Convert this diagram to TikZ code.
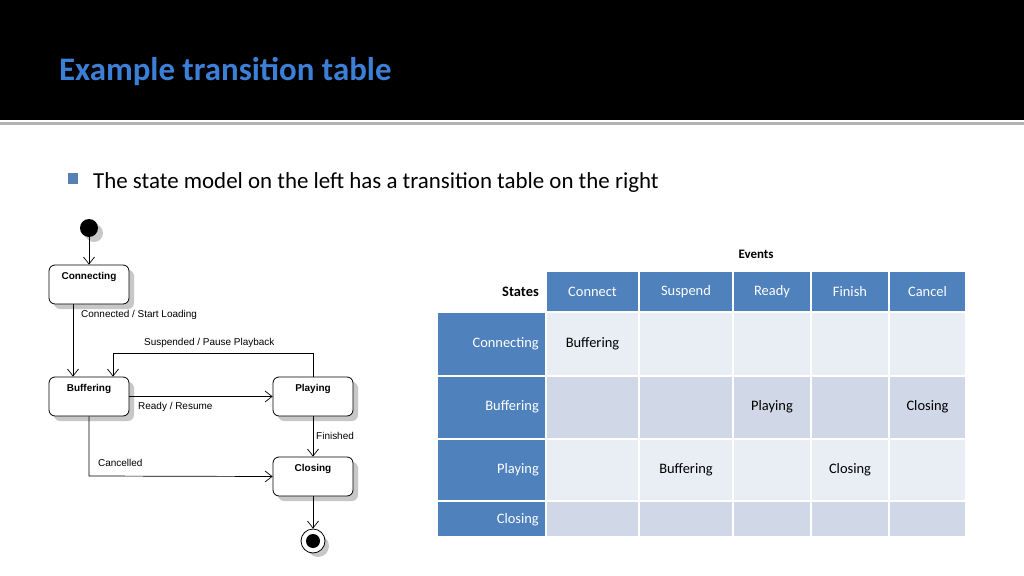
\documentclass[tikz,border=0pt]{standalone}
\usepackage{fontspec}
\setmainfont{Carlito}
\newfontfamily\arialf{Liberation Sans}
\usetikzlibrary{arrows.meta}
\definecolor{ttl}{HTML}{3C7FD6}
\definecolor{hdr}{HTML}{4F81BD}
\definecolor{cla}{HTML}{E9EDF4}
\definecolor{clb}{HTML}{D0D8E8}
\begin{document}
\begin{tikzpicture}[x=1bp,y=-1bp,
  st/.style={draw=black,line width=0.8bp,rounded corners=6bp,fill=white,minimum width=80bp,minimum height=39bp,inner sep=0},
  shd/.style={fill=black!22,rounded corners=6bp},
  tr/.style={draw=black,line width=0.7bp,-{Straight Barb[length=7bp,width=11bp]}},
  lb/.style={font=\arialf\fontsize{10}{12}\selectfont,anchor=west,inner sep=0},
  sn/.style={font=\arialf\bfseries\fontsize{10}{12}\selectfont,anchor=north,inner sep=0},
  hc/.style={fill=hdr,draw=white,line width=1.5bp},
  ca/.style={fill=cla,draw=white,line width=1.5bp},
  cb/.style={fill=clb,draw=white,line width=1.5bp},
  ht/.style={font=\fontsize{14.5}{17}\selectfont,text=white,inner sep=0},
  dt/.style={font=\fontsize{14.5}{17}\selectfont,inner sep=0}]
\useasboundingbox (0,0) rectangle (1024,576);
\fill[white] (0,0) rectangle (1024,576);
\fill[black] (0,0) rectangle (1024,120);
\fill[black!30] (0,122) rectangle (1024,125);
\node[anchor=base west,inner sep=0,text=ttl,font=\bfseries\fontsize{33}{36}\selectfont] (title) at (59,81) {Example transition table};
\fill[hdr!85!gray] (68,173) rectangle (78,184);
\node[anchor=base west,inner sep=0,font=\fontsize{23}{26}\selectfont] (bul) at (93,189) {The state model on the left has a transition table on the right};
% diagram
\fill[black!22] (94,233) circle (9);
\fill[black] (89,228) circle (9);
\coordinate (init) at (89,237);
\foreach \n/\x/\y in {Connecting/89/284.5,Buffering/89/396.5,Playing/313/396.5,Closing/313/476.5}{
  \fill[shd] (\x-35,\y-14.5) rectangle (\x+45,\y+24.5);
}
\node[st] (con) at (89,284.5) {};
\node[st] (buf) at (89,396.5) {};
\node[st] (pla) at (313,396.5) {};
\node[st] (clo) at (313,476.5) {};
\node[sn] at (89,272) {Connecting};
\node[sn] at (89,384) {Buffering};
\node[sn] at (313,384) {Playing};
\node[sn] at (313,464) {Closing};
\fill[black!22] (318,546) circle (11);
\node[circle,draw=black,fill=white,line width=0.8bp,minimum size=24bp,inner sep=0] (fin) at (313,541) {};
\fill[black] (fin.center) circle (7);
\draw[tr] (init) -- (con.north);
\draw[tr] (con.south -| 73,0) -- (buf.north -| 73,0);
\node[lb] at (81,315) {Connected / Start Loading};
\draw[tr] (pla.north) -- (313,353) -- (113,353) -- (buf.north -| 113,0);
\node[lb] at (144,343) {Suspended / Pause Playback};
\draw[tr] (buf.east) -- (pla.west);
\node[lb] at (138,407) {Ready / Resume};
\draw[tr] (buf.south) -- (89,476) -- (clo.west);
\node[lb] at (98,463) {Cancelled};
\draw[tr] (pla.south) -- (clo.north);
\node[lb] at (316,436) {Finished};
\draw[tr] (clo.south) -- (fin.north);
% table
\def\cx{{437,546,639,733,811,889,966}}
\foreach \i/\xa/\xb in {1/546/639,2/639/733,3/733/811,4/811/889,5/889/966}{
  \fill[hc] (\xa,271) rectangle (\xb,312);
}
\foreach \ya/\yb/\s in {312/376/ca,376/439/cb,439/501/ca,501/537/cb}{
  \fill[hc] (437,\ya) rectangle (546,\yb);
  \foreach \xa/\xb in {546/639,639/733,733/811,811/889,889/966}{
    \fill[\s] (\xa,\ya) rectangle (\xb,\yb);}
}
\node[dt,font=\bfseries\fontsize{13}{15}\selectfont] (ev) at (756,254) {Events};
\node[dt,font=\bfseries\fontsize{14.5}{17}\selectfont,anchor=east] (sts) at (539,292) {States};
\node[ht] at (592.5,292) {Connect};
\node[ht] at (686,292) {Suspend};
\node[ht] at (772,292) {Ready};
\node[ht] at (850,292) {Finish};
\node[ht] at (927.5,292) {Cancel};
\node[ht,anchor=east] at (539,344) {Connecting};
\node[ht,anchor=east] at (539,407) {Buffering};
\node[ht,anchor=east] at (539,470) {Playing};
\node[ht,anchor=east] at (539,520) {Closing};
\node[dt] at (592.5,344) {Buffering};
\node[dt] at (772,407) {Playing};
\node[dt] at (927.5,407) {Closing};
\node[dt] at (686,470) {Buffering};
\node[dt] at (850,470) {Closing};
\end{tikzpicture}
\end{document}
